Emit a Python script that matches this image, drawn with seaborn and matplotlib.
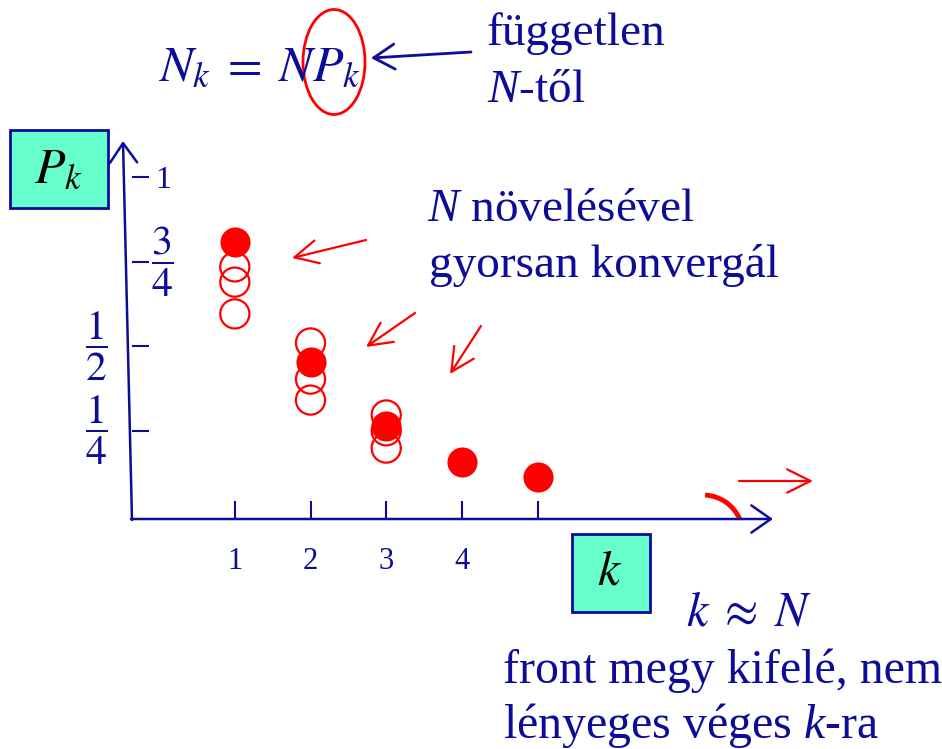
import numpy as np
import pandas as pd
import seaborn as sns
import matplotlib.pyplot as plt
from matplotlib.patches import Ellipse, Rectangle, Arc

# adatok: P_k értékek k-ként (teli = határérték, üres = véges N)
k_filled = [1, 2, 3, 4, 5]
p_filled = [0.808, 0.453, 0.263, 0.157, 0.112]
k_open = [1, 1, 1, 2, 2, 2, 3, 3, 3]
p_open = [0.734, 0.689, 0.595, 0.509, 0.402, 0.340, 0.296, 0.249, 0.198]

x_ticks = [1, 2, 3, 4, 5]
x_ticklabels = ['1', '2', '3', '4', '']
y_ticks = [0.25, 0.5, 0.75, 1.0]
y_ticklabels = [r'$\dfrac{1}{4}$', r'$\dfrac{1}{2}$', r'$\dfrac{3}{4}$', '1']

sns.set_theme(style='white')
plt.rcParams['font.family'] = ['Liberation Serif', 'DejaVu Serif']
plt.rcParams['mathtext.fontset'] = 'custom'
plt.rcParams['mathtext.rm'] = 'Liberation Serif'
plt.rcParams['mathtext.it'] = 'Liberation Serif:italic'

blue = '#0c0c99'
red = '#ff0000'
W, H = 942, 749

fig = plt.figure(figsize=(W / 100, H / 100), dpi=100)

# háttér tengely pixelkoordinátákkal a feliratokhoz
bg = fig.add_axes([0, 0, 1, 1])
bg.set_xlim(0, W)
bg.set_ylim(H, 0)
bg.axis('off')

# a diagram tengelye: k és P_k
x0, x1, y0, y1 = 132, 775, 519, 141
ax = fig.add_axes([x0 / W, 1 - y0 / H, (x1 - x0) / W, (y0 - y1) / H])
ax.set_xlim(-0.358, 8.136)
ax.set_ylim(-0.0118, 1.1065)
ax.patch.set_alpha(0)
for s in ax.spines.values():
    s.set_visible(False)

sns.scatterplot(x=k_open, y=p_open, ax=ax, s=440, facecolor='none',
                edgecolor=red, linewidth=1.6, zorder=3)
sns.scatterplot(x=k_filled, y=p_filled, ax=ax, s=470, color=red,
                edgecolor=red, linewidth=0, zorder=4)

ax.set_xticks(x_ticks)
ax.set_xticklabels(x_ticklabels, fontsize=22, color=blue)
ax.set_yticks(y_ticks)
ax.set_yticklabels([])
ax.tick_params(axis='x', direction='in', length=13, width=1.5, color=blue,
               bottom=True, pad=20)
ax.tick_params(axis='y', direction='in', length=12, width=1.5, color=blue,
               left=True)
ax.set_xlabel('')
ax.set_ylabel('')

# y feliratok: kettő jobbra, kettő balra a tengelytől
label_k = [-0.83, -0.83, 0.05, 0.05]
label_size = [30, 30, 30, 23]
label_va = ['center', 'center', 'center', 'center_baseline']
for lk, yt, lab, fs, va in zip(label_k, y_ticks, y_ticklabels, label_size,
                               label_va):
    ax.text(lk, yt, lab, fontsize=fs, color=blue, ha='center', va=va,
            math_fontfamily='stix')

# tengelyek nyilakkal
arrow = dict(arrowstyle='->,head_length=0.5,head_width=0.35', color=blue,
             lw=1.8, mutation_scale=28, shrinkA=0, shrinkB=0)
bg.annotate('', xy=(773, 519), xytext=(131, 519), arrowprops=arrow)
bg.annotate('', xy=(123, 141), xytext=(132, 520), arrowprops=arrow)

# dobozok
bg.add_patch(Rectangle((10, 130), 98, 78, facecolor='#66ffcc',
                       edgecolor=blue, lw=2))
bg.text(58, 170, r'$P_k$', fontsize=36, color='black', ha='center',
        va='center', math_fontfamily='stix')
bg.add_patch(Rectangle((572, 534), 78, 78, facecolor='#66ffcc',
                       edgecolor=blue, lw=2))
bg.text(610, 572, r'$k$', fontsize=36, color='black', ha='center',
        va='center', math_fontfamily='stix')

# képlet felül
bg.text(158, 80, r'$N_k\;=\;NP_k$', fontsize=36, color=blue, ha='left',
        va='baseline', math_fontfamily='stix')
bg.add_patch(Ellipse((334, 62), 62, 105, facecolor='none', edgecolor=red,
                     lw=2))
bg.annotate('', xy=(371, 58), xytext=(471, 52),
            arrowprops=dict(arrowstyle='->,head_length=0.5,head_width=0.3',
                            color=blue, lw=2, mutation_scale=30,
                            shrinkA=0, shrinkB=0))
bg.text(487, 45, 'független', fontsize=34, color=blue, va='baseline')
bg.text(487, 102, r'$N$-től', fontsize=34, color=blue, va='baseline')

bg.text(427, 221, r'$N$ növelésével', fontsize=34, color=blue, va='baseline')
bg.text(429, 277, 'gyorsan konvergál', fontsize=34, color=blue,
        va='baseline')

# piros nyilak
red_arrow = dict(arrowstyle='->,head_length=0.6,head_width=0.3', color=red,
                 lw=1.6, mutation_scale=28, shrinkA=0, shrinkB=0)
bg.annotate('', xy=(292, 258), xytext=(366, 240), arrowprops=red_arrow)
bg.annotate('', xy=(366, 347), xytext=(415, 313), arrowprops=red_arrow)
bg.annotate('', xy=(450, 374), xytext=(481, 326), arrowprops=red_arrow)
bg.annotate('', xy=(813, 481), xytext=(739, 481), arrowprops=red_arrow)
bg.add_patch(Arc((703, 535), 80, 80, theta1=-87, theta2=-23, color=red,
                 lw=3.5))

# alsó szöveg
bg.text(686, 626, r'$k\;\approx\;N$', fontsize=35, color=blue,
        va='baseline', math_fontfamily='stix')
bg.text(503, 683, 'front megy kifelé, nem', fontsize=34.5, color=blue,
        va='baseline')
bg.text(503, 738, r'lényeges véges $k$-ra', fontsize=34.5, color=blue,
        va='baseline')

fig.savefig('out.png', dpi=100)
